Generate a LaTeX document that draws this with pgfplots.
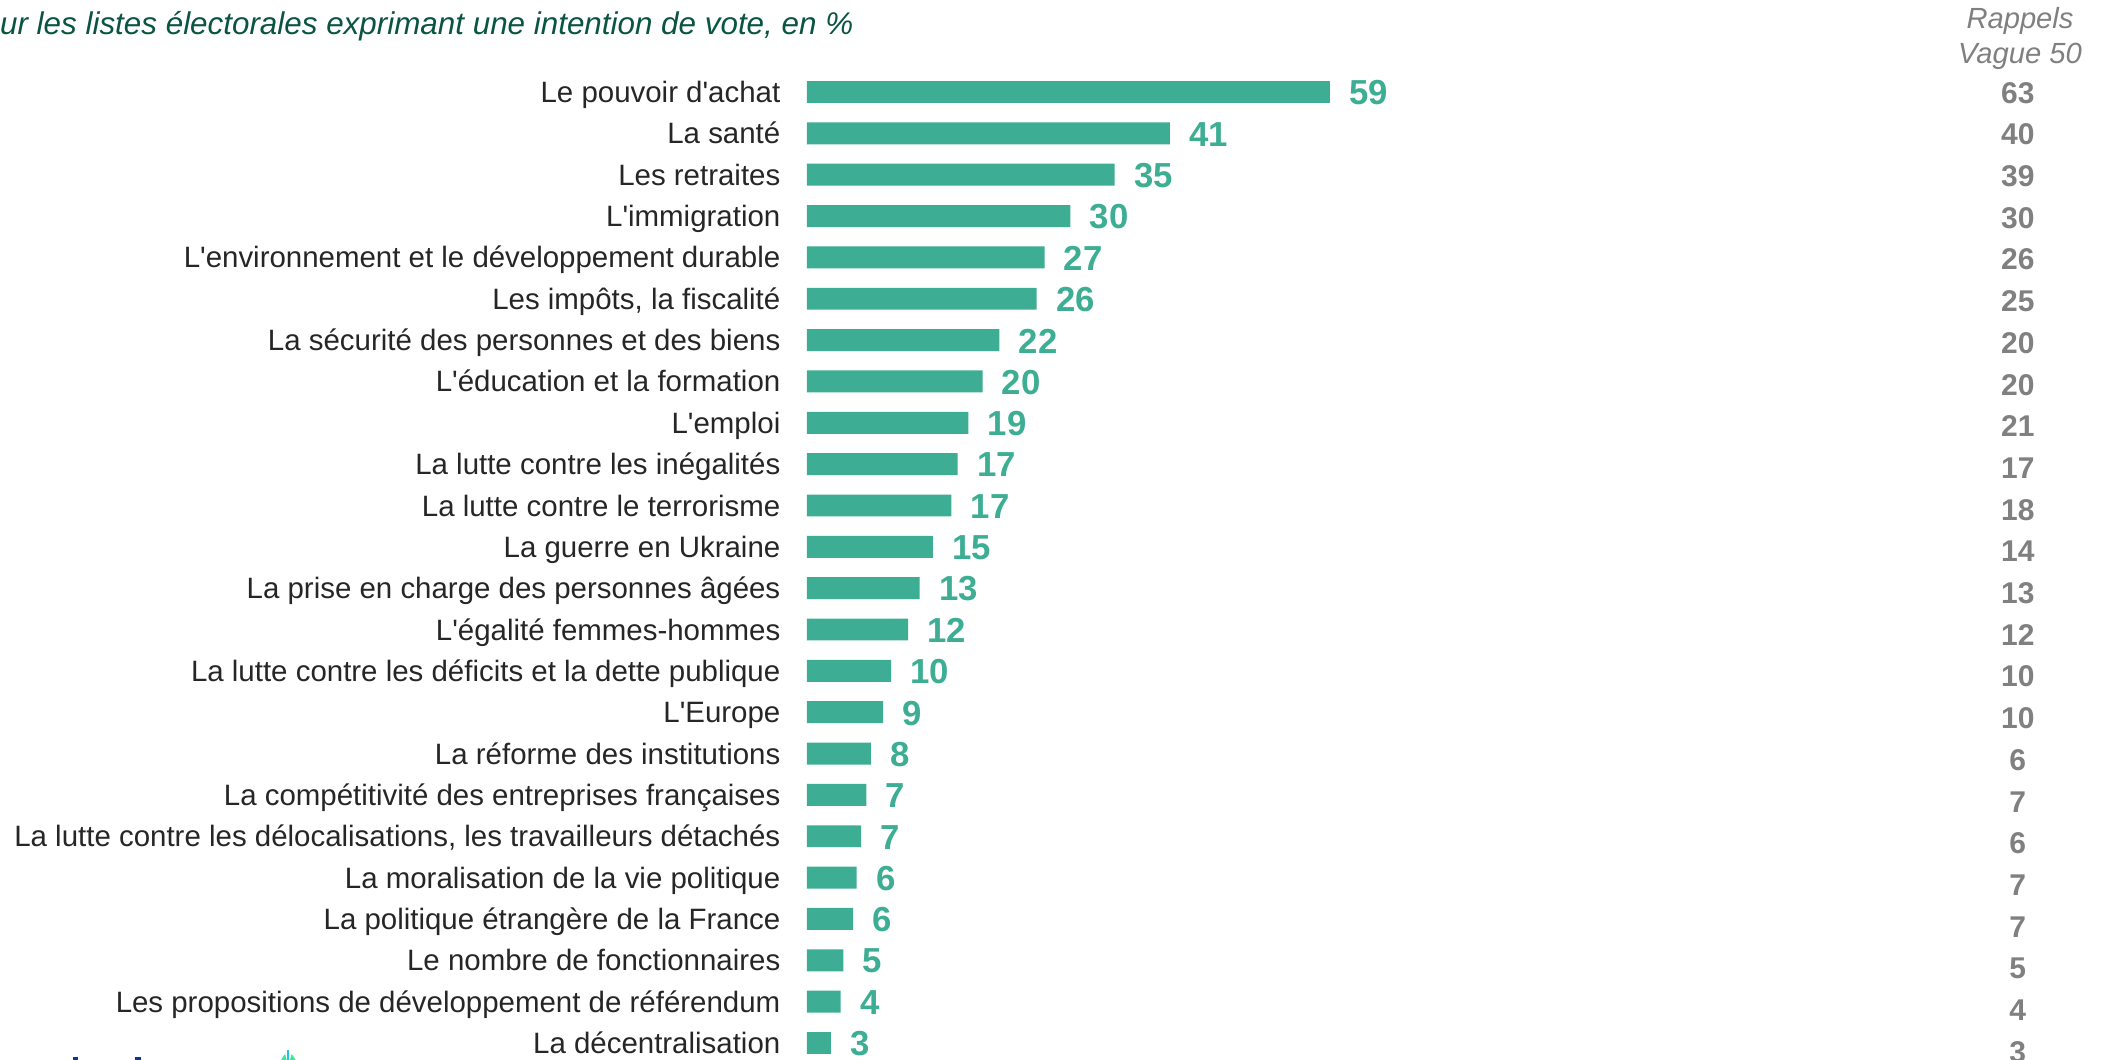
\documentclass[border=0pt]{standalone}
\usepackage{fontspec}
\setmainfont{Liberation Sans}
\usepackage{pgfplots}
\usepackage{pgfplotstable}
\pgfplotsset{compat=1.18}
\definecolor{barteal}{RGB}{61,174,148}
\definecolor{titlegreen}{RGB}{10,85,65}
\definecolor{prevgrey}{RGB}{128,128,128}
\definecolor{labgrey}{RGB}{38,38,38}
\definecolor{logoblue}{RGB}{20,50,150}
\definecolor{logocyan}{RGB}{40,190,240}
\definecolor{logogreen}{RGB}{60,230,160}
\newcommand{\q}{\textquotesingle}
\pgfplotstableread{
idx bar val prev
0 59.0 59 63
1 40.95 41 40
2 34.7 35 39
3 29.7 30 30
4 26.8 27 26
5 25.9 26 25
6 21.7 22 20
7 19.8 20 20
8 18.2 19 21
9 17.0 17 17
10 16.3 17 18
11 14.2 15 14
12 12.7 13 13
13 11.4 12 12
14 9.5 10 10
15 8.6 9 10
16 7.2 8 6
17 6.7 7 7
18 6.1 7 6
19 5.6 6 7
20 5.2 6 7
21 4.1 5 5
22 3.8 4 4
23 2.7 3 3
}\datatable
\begin{document}
\begin{tikzpicture}[x=1pt,y=1pt]
\path[use as bounding box] (0,0) rectangle (758.16pt,381.6pt);
\clip (0,0) rectangle (758.16pt,381.6pt);
\begin{axis}[
  at={(290.52pt,6.12pt)}, anchor=south west,
  scale only axis, width=188.28pt, height=342.36pt,
  xmin=0, xmax=59, ymin=0, ymax=23, y dir=reverse,
  axis line style={draw=none}, clip=false,
  /pgf/number format/assume math mode=true,
  xtick=\empty, ytick={0,...,23}, major tick length=0pt,
  yticklabels={Le pouvoir d\q achat, La santé, Les retraites, L\q immigration,
    L\q environnement et le développement durable, {Les impôts, la fiscalité},
    La sécurité des personnes et des biens, L\q éducation et la formation, L\q emploi,
    La lutte contre les inégalités, La lutte contre le terrorisme, La guerre en Ukraine,
    La prise en charge des personnes âgées, L\q égalité femmes-hommes,
    La lutte contre les déficits et la dette publique, L\q Europe,
    La réforme des institutions, La compétitivité des entreprises françaises,
    {La lutte contre les délocalisations, les travailleurs détachés},
    La moralisation de la vie politique, La politique étrangère de la France,
    Le nombre de fonctionnaires, Les propositions de développement de référendum,
    La décentralisation},
  yticklabel style={font=\fontsize{10.6pt}{12pt}\selectfont, text=labgrey, inner sep=0pt,
    xshift=-9.4pt, anchor=east, text height=7.6pt, text depth=0pt},
]
\addplot[xbar, bar width=7.9pt, fill=barteal, draw=none,
  point meta=explicit,
  nodes near coords,
  every node near coord/.append style={anchor=west, inner sep=0pt, xshift=6.8pt, yshift=-0.3pt,
    font=\fontsize{12.5pt}{14pt}\selectfont\bfseries, text=barteal}]
  table[x=bar, y=idx, meta=val] {\datatable};
\addplot[draw=none, mark=none, point meta=explicit,
  nodes near coords,
  every node near coord/.append style={anchor=center, inner sep=0pt,
    font=\fontsize{10.8pt}{12pt}\selectfont\bfseries, text=prevgrey}]
  table[x expr=136.6, y expr=\thisrow{idx}*1.0085+0.02, meta=prev] {\datatable};
\end{axis}
\node[anchor=base east, inner sep=0pt, text=titlegreen, font=\fontsize{11.3pt}{13pt}\selectfont\itshape] at (307.4pt,369pt) {ur les listes électorales exprimant une intention de vote, en \%};
\node[anchor=base, inner sep=0pt, text=prevgrey, font=\fontsize{10.5pt}{12pt}\selectfont\itshape] at (727.2pt,371.2pt) {Rappels};
\node[anchor=base, inner sep=0pt, text=prevgrey, font=\fontsize{10.5pt}{12pt}\selectfont\itshape] at (727.2pt,358.9pt) {Vague 50};
% partial logo at the bottom-left edge
\fill[logoblue] (26.3pt,0) rectangle (28.1pt,1.1pt);
\fill[logoblue] (48.6pt,0) rectangle (50.8pt,1.1pt);
\fill[logocyan] (103.4pt,0) rectangle (104.2pt,3.6pt);
\fill[logogreen] (101.2pt,0) -- (102.6pt,2.2pt) -- (103.2pt,0) -- cycle;
\fill[logogreen] (104.4pt,0) -- (105.0pt,2.2pt) -- (106.4pt,0) -- cycle;
\end{tikzpicture}
\end{document}
